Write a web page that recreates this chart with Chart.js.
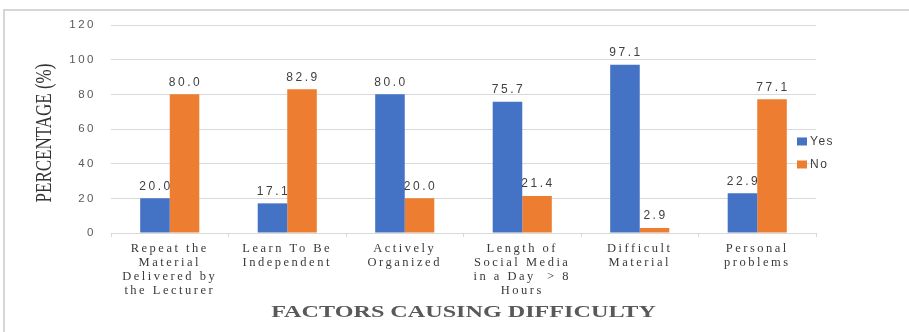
<!DOCTYPE html>
<html>
<head>
<meta charset="utf-8">
<script src="https://cdn.jsdelivr.net/npm/chart.js@4/dist/chart.umd.min.js"></script>
<style>
  body { margin: 0; background: #fff; }
  #wrap { position: relative; width: 909px; height: 332px; }
</style>
</head>
<body>
<div id="wrap"><canvas id="chart"></canvas></div>
<script>
/* ================= DATA ================= */
const categories = [
    ["Repeat the", "Material", "Delivered by", "the Lecturer"],
    ["Learn To Be", "Independent"],
    ["Actively", "Organized"],
    ["Length of", "Social Media", "in a Day  > 8", "Hours"],
    ["Difficult", "Material"],
    ["Personal", "problems"]
];
const seriesNames = ["Yes", "No"];
const yesValues = [20.0, 17.1, 80.0, 75.7, 97.1, 22.9];
const noValues = [80.0, 82.9, 20.0, 21.4, 2.9, 77.1];
const yTickValues = [0, 20, 40, 60, 80, 100, 120];
const yTitle = "PERCENTAGE (%)";
const xTitle = "FACTORS CAUSING DIFFICULTY";

const BLUE = "#4472C4";
const ORANGE = "#ED7D31";
const GRID = "#d9d9d9";

/* ================= PLUGINS ================= */
// wide, spaced text like the stretched original
const spacing = {
    id: "spacing",
    beforeLayout(c) { c.ctx.letterSpacing = "2.5px"; },
    beforeDraw(c) { c.ctx.letterSpacing = "2.5px"; }
};

const extras = {
    id: "extras",
    beforeDraw(c) {
        const ctx = c.ctx;
        ctx.save();
        ctx.strokeStyle = "#d6d6d6";
        ctx.lineWidth = 2;
        ctx.strokeRect(4, 10, 1000, 1000);
        ctx.restore();
    },
    afterDatasetsDraw(c) {
        const ctx = c.ctx;
        ctx.save();
        ctx.font = "12px 'Liberation Sans'";
        ctx.letterSpacing = "2.5px";
        ctx.fillStyle = "#404040";
        ctx.textAlign = "center";
        ctx.textBaseline = "middle";
        c.data.datasets.forEach((ds, i) => {
            c.getDatasetMeta(i).data.forEach((bar, j) => {
                ctx.fillText(ds.data[j].toFixed(1), bar.x + 1, bar.y - 12);
            });
        });
        ctx.restore();
    },
    afterDraw(c) {
        const ctx = c.ctx;
        const a = c.chartArea;

        // y title
        ctx.save();
        ctx.translate(45, (a.top + a.bottom) / 2 + 4);
        ctx.rotate(-Math.PI / 2);
        ctx.scale(1, 1.35);
        ctx.font = "17px 'Liberation Serif'";
        ctx.letterSpacing = "0px";
        ctx.fillStyle = "#333333";
        ctx.textAlign = "center";
        ctx.textBaseline = "middle";
        ctx.fillText(yTitle, 0, 0);
        ctx.restore();

        // x title
        ctx.save();
        ctx.translate((a.left + a.right) / 2, 317);
        ctx.scale(1.38, 1);
        ctx.font = "bold 17.5px 'Liberation Serif'";
        ctx.letterSpacing = "0px";
        ctx.fillStyle = "#595959";
        ctx.textAlign = "center";
        ctx.textBaseline = "alphabetic";
        ctx.fillText(xTitle, 0, 0);
        ctx.restore();

        // legend
        ctx.save();
        ctx.font = "12px 'Liberation Sans'";
        ctx.letterSpacing = "1.5px";
        ctx.textBaseline = "middle";
        const lx = a.right - 19;
        const ly = a.top + (a.bottom - a.top) * 0.56;
        c.data.datasets.forEach((ds, i) => {
            const y = ly + i * 23;
            ctx.fillStyle = ds.backgroundColor;
            ctx.fillRect(lx, y - 4, 10, 8);
            ctx.fillStyle = "#404040";
            ctx.fillText(ds.label, lx + 13, y);
        });
        ctx.restore();
    }
};

/* ================= CHART ================= */
new Chart(document.getElementById("chart"), {
    type: "bar",
    data: {
        labels: categories,
        datasets: [
            { label: seriesNames[0], data: yesValues, backgroundColor: BLUE },
            { label: seriesNames[1], data: noValues, backgroundColor: ORANGE }
        ]
    },
    options: {
        responsive: true,
        maintainAspectRatio: false,
        animation: false,
        layout: { padding: { left: 11, right: 93, top: 25, bottom: 0 } },
        datasets: { bar: { categoryPercentage: 0.503, barPercentage: 1.0 } },
        plugins: {
            legend: { display: false },
            tooltip: { enabled: false }
        },
        scales: {
            x: {
                afterFit: s => { s.height = 99; },
                border: { display: true, color: GRID, width: 1 },
                grid: { drawOnChartArea: false, drawTicks: true, tickLength: 4, color: GRID },
                ticks: {
                    autoSkip: false,
                    maxRotation: 0,
                    padding: 5,
                    color: "#3a3a3a",
                    font: { family: "'Liberation Serif'", size: 12.5, lineHeight: 1.12 }
                }
            },
            y: {
                min: 0,
                max: 120,
                afterFit: s => { s.width = 100; },
                afterBuildTicks: s => { s.ticks = yTickValues.map(v => ({ value: v })); },
                border: { display: false },
                grid: { color: GRID, drawTicks: false },
                ticks: {
                    padding: 15,
                    color: "#595959",
                    font: { family: "'Liberation Sans'", size: 11.5 }
                }
            }
        }
    },
    plugins: [spacing, extras]
});
</script>
</body>
</html>
